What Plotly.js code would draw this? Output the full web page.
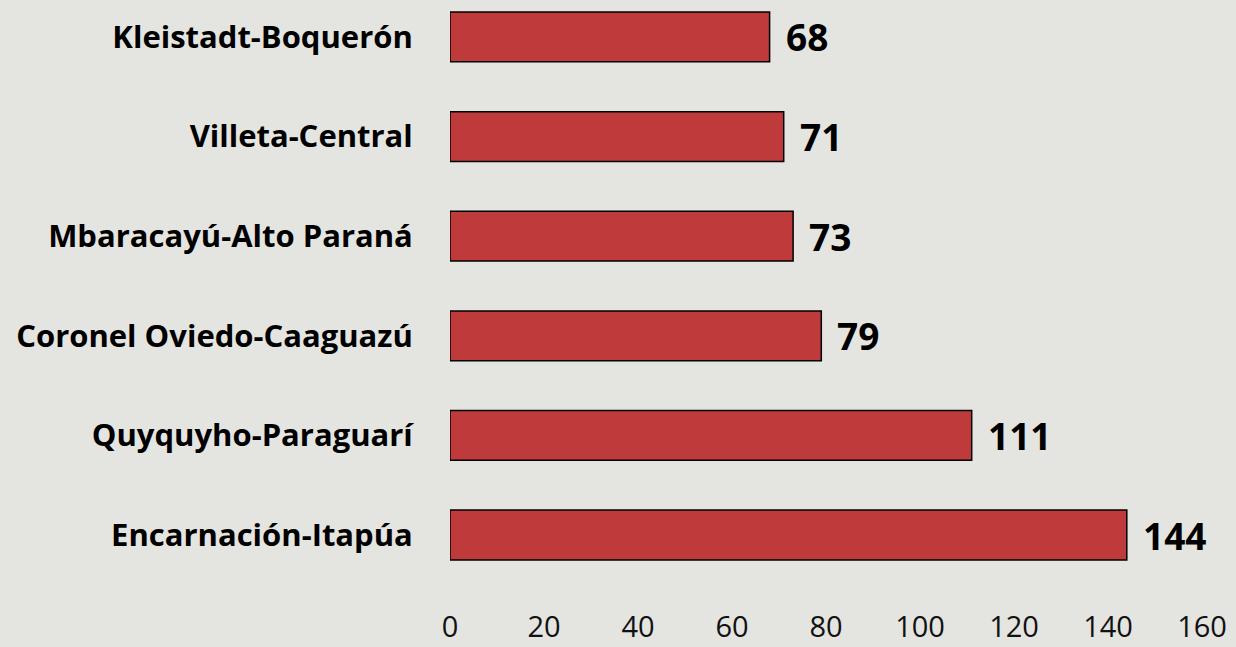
<!DOCTYPE html>
<html><head><meta charset="utf-8">
<script src="https://cdn.plot.ly/plotly-3.0.1.min.js"></script>
<style>html,body{margin:0;padding:0;background:#e4e4e0;}#chart{width:1236px;height:647px;}</style>
</head><body><div id="chart"></div>
<script>
const categories = ["Encarnación-Itapúa","Quyquyho-Paraguarí","Coronel Oviedo-Caaguazú","Mbaracayú-Alto Paraná","Villeta-Central","Kleistadt-Boquerón"];
const values = [144, 111, 79, 73, 71, 68];
const xTicks = [0, 20, 40, 60, 80, 100, 120, 140, 160];

const FONT = '"Open Sans", sans-serif';
const trace = {
  type: 'bar', orientation: 'h',
  x: values, y: categories,
  width: 0.5,
  marker: {color: '#bf3a3b', line: {color: '#000', width: 1.5}},
  hoverinfo: 'none'
};
const annotations = values.map((v, i) => ({
  x: v, y: categories[i], xref: 'x', yref: 'y', text: String(v),
  showarrow: false, xanchor: 'left', xshift: 14, yshift: 0,
  font: {family: FONT, size: 37, color: '#000', weight: 'bold'}
}));
const layout = {
  width: 1236, height: 647,
  paper_bgcolor: '#e4e4e0', plot_bgcolor: '#e4e4e0',
  margin: {l: 450, r: 34, t: 0, b: 57},
  showlegend: false,
  xaxis: {range: [0, 160], tickvals: xTicks, showgrid: false, zeroline: false, showline: false,
          ticks: 'outside', ticklen: 11, tickcolor: 'rgba(0,0,0,0)',
          tickfont: {family: FONT, size: 29, color: '#111'}},
  yaxis: {type: 'category', range: [-0.552, 5.371], showgrid: false, zeroline: false, showline: false,
          ticks: 'outside', ticklen: 30, tickcolor: 'rgba(0,0,0,0)',
          tickfont: {family: FONT, size: 31, color: '#000', weight: 'bold'}},
  annotations: annotations
};
Plotly.newPlot('chart', [trace], layout, {staticPlot: true});
</script></body></html>
